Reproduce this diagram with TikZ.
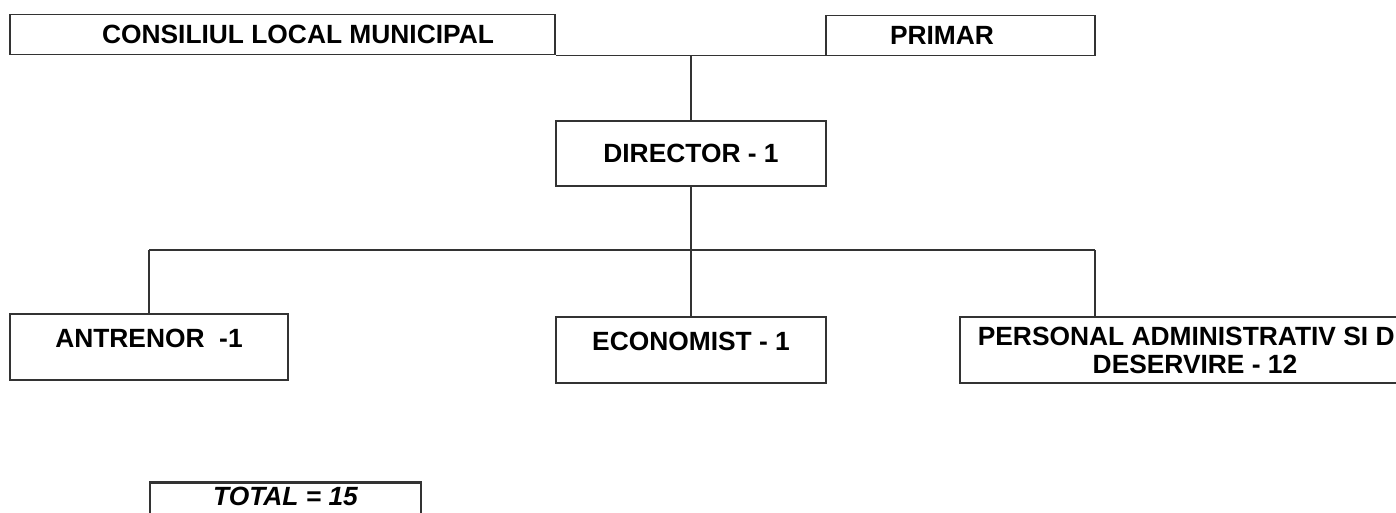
\documentclass[tikz,border=0pt]{standalone}
\usepackage{fontspec}
\setmainfont{Liberation Sans}
\usepackage{tikz}
\usetikzlibrary{calc}
\tikzset{
    box/.style={draw=black!80, line width=1.1pt, rectangle, inner sep=0pt,
        font=\fontsize{15}{16}\selectfont\bfseries, align=center},
    lowbox/.style={box, text depth=0.36cm},
    totalbox/.style={box, line width=1.6pt, font=\fontsize{15}{16}\selectfont\bfseries\itshape,
        inner ysep=0.09cm, text depth=1.2cm, anchor=north},
    link/.style={draw=black!80, line width=1.1pt}
}

\begin{document}
\begin{tikzpicture}[x=0.02cm, y=-0.02cm]
        \useasboundingbox (0, 0) rectangle (1396, 512);
        \clip (0, 0) rectangle (1396, 512);
        % top row
        \node[box, minimum width=10.9cm, minimum height=0.8cm] (cons) at (282.5, 34.5) {\hspace*{0.62cm}CONSILIUL LOCAL MUNICIPAL};
        \node[box, minimum width=5.38cm, minimum height=0.8cm] (prim) at (960.5, 35.5) {PRIMAR\hspace*{0.74cm}};
        \node[box, minimum width=5.4cm, minimum height=1.3cm] (dir) at (691, 153.5) {DIRECTOR - 1};
        % subordinates
        \node[lowbox, minimum width=5.56cm, minimum height=1.32cm] (antr) at (149, 347) {ANTRENOR \ -1};
        \node[lowbox, minimum width=5.4cm, minimum height=1.32cm] (econ) at (691, 350) {ECONOMIST - 1};
        \node[box, minimum width=9.4cm, minimum height=1.32cm] (pers) at (1195, 350) {PERSONAL ADMINISTRATIV SI DE\\DESERVIRE - 12};
        \node[totalbox, minimum width=5.42cm] (total) at (285.5, 481) {TOTAL = 15};
        % connectors
        \coordinate (busL) at (149, 250);
        \coordinate (busR) at (1095, 250);
        \draw[link] (cons.south east) -- (cons.south east -| prim.west);
        \draw[link] (dir.north) -- (dir.north |- cons.south east);
        \draw[link] (dir.south) -- (dir.south |- busL);
        \draw[link] (busL) -- (busR);
        \draw[link] (busL) -- (antr.north);
        \draw[link] (dir.south |- busL) -- (econ.north);
        \draw[link] (busR) -- (busR |- pers.north);
    \end{tikzpicture}
\end{document}
